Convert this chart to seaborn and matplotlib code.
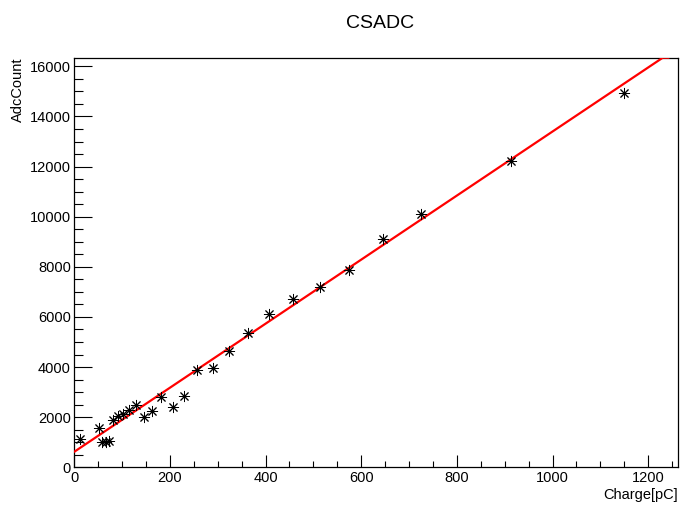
import numpy as np
import pandas as pd
import matplotlib
matplotlib.use("Agg")
import matplotlib.pyplot as plt
from matplotlib.ticker import MultipleLocator
import seaborn as sns

# ---- data ----
charge = [12.5, 51.6, 57.8, 66.2, 72.4, 80.2, 90.4, 101.7, 114.8, 128.8,
          145.5, 162.2, 181.6, 206.0, 229.0, 257.0, 289.0, 323.6, 363.9,
          407.7, 456.6, 513.6, 574.7, 645.7, 725.8, 912.3, 1148.8]
adc = [1145, 1556, 1026, 1026, 1038, 1903, 2035, 2143, 2303, 2502,
       2023, 2263, 2805, 2406, 2861, 3870, 3950, 4629, 5360,
       6105, 6716, 7195, 7889, 9098, 10124, 12223, 14952]
fit_intercept = 620.0
fit_slope = 12.78
fit_range = [0.0, 1243.0]
x_range = [0.0, 1262.4]
y_range = [0.0, 16345.0]

df = pd.DataFrame({"Charge": charge, "Adc": adc})
fx = np.linspace(fit_range[0], fit_range[1], 400)
fy = np.clip(fit_intercept + fit_slope * fx, y_range[0], y_range[1])
fit_df = pd.DataFrame({"x": fx, "y": fy})

sns.set_style("white")
plt.rcParams["font.family"] = ["Liberation Sans", "DejaVu Sans"]
plt.rcParams["text.color"] = "black"
plt.rcParams["xtick.color"] = "black"
plt.rcParams["ytick.color"] = "black"

W, H = 680, 505
fig = plt.figure(figsize=(W / 100, H / 100), dpi=100)
L, R, B, T = 74.3, 678.0, 467.3, 57.7
ax = fig.add_axes([L / W, (H - B) / H, (R - L) / W, (B - T) / H])

sns.lineplot(data=fit_df, x="x", y="y", ax=ax, color="red", linewidth=1.6,
             zorder=3, sort=False, estimator=None)
sns.scatterplot(data=df, x="Charge", y="Adc", ax=ax, marker=(8, 2, 0),
                s=55, color="black", edgecolor="black", linewidth=0.7, zorder=4)

ax.set_xlim(*x_range)
ax.set_ylim(*y_range)
ax.set_xlabel("")
ax.set_ylabel("")
ax.xaxis.set_major_locator(MultipleLocator(200))
ax.xaxis.set_minor_locator(MultipleLocator(50))
ax.yaxis.set_major_locator(MultipleLocator(2000))
ax.yaxis.set_minor_locator(MultipleLocator(500))

ax.tick_params(axis="both", which="both", bottom=True, left=True,
               top=False, right=False)
ax.tick_params(axis="x", which="major", direction="in", length=8.3, width=0.8,
               labelsize=10.5, pad=3, color="black", labelcolor="black")
ax.tick_params(axis="x", which="minor", direction="in", length=4.2, width=0.8,
               color="black")
ax.tick_params(axis="y", which="major", direction="in", length=13, width=0.8,
               labelsize=10.5, pad=2.5, color="black", labelcolor="black")
ax.tick_params(axis="y", which="minor", direction="in", length=6.5, width=0.8,
               color="black")
for s in ax.spines.values():
    s.set_color("black")
    s.set_linewidth(0.9)
    s.set_visible(True)

fig.text(380 / W, 1 - 23 / H, "CSADC", fontsize=14, ha="center", va="center",
         color="black")
fig.text(18 / W, 1 - T / H, "AdcCount", fontsize=10.5, rotation=90,
         ha="center", va="top", color="black")
fig.text(R / W, 1 - 495 / H, "Charge[pC]", fontsize=10.5, ha="right",
         va="center", color="black")

fig.savefig("out.png", dpi=100, facecolor="white")
